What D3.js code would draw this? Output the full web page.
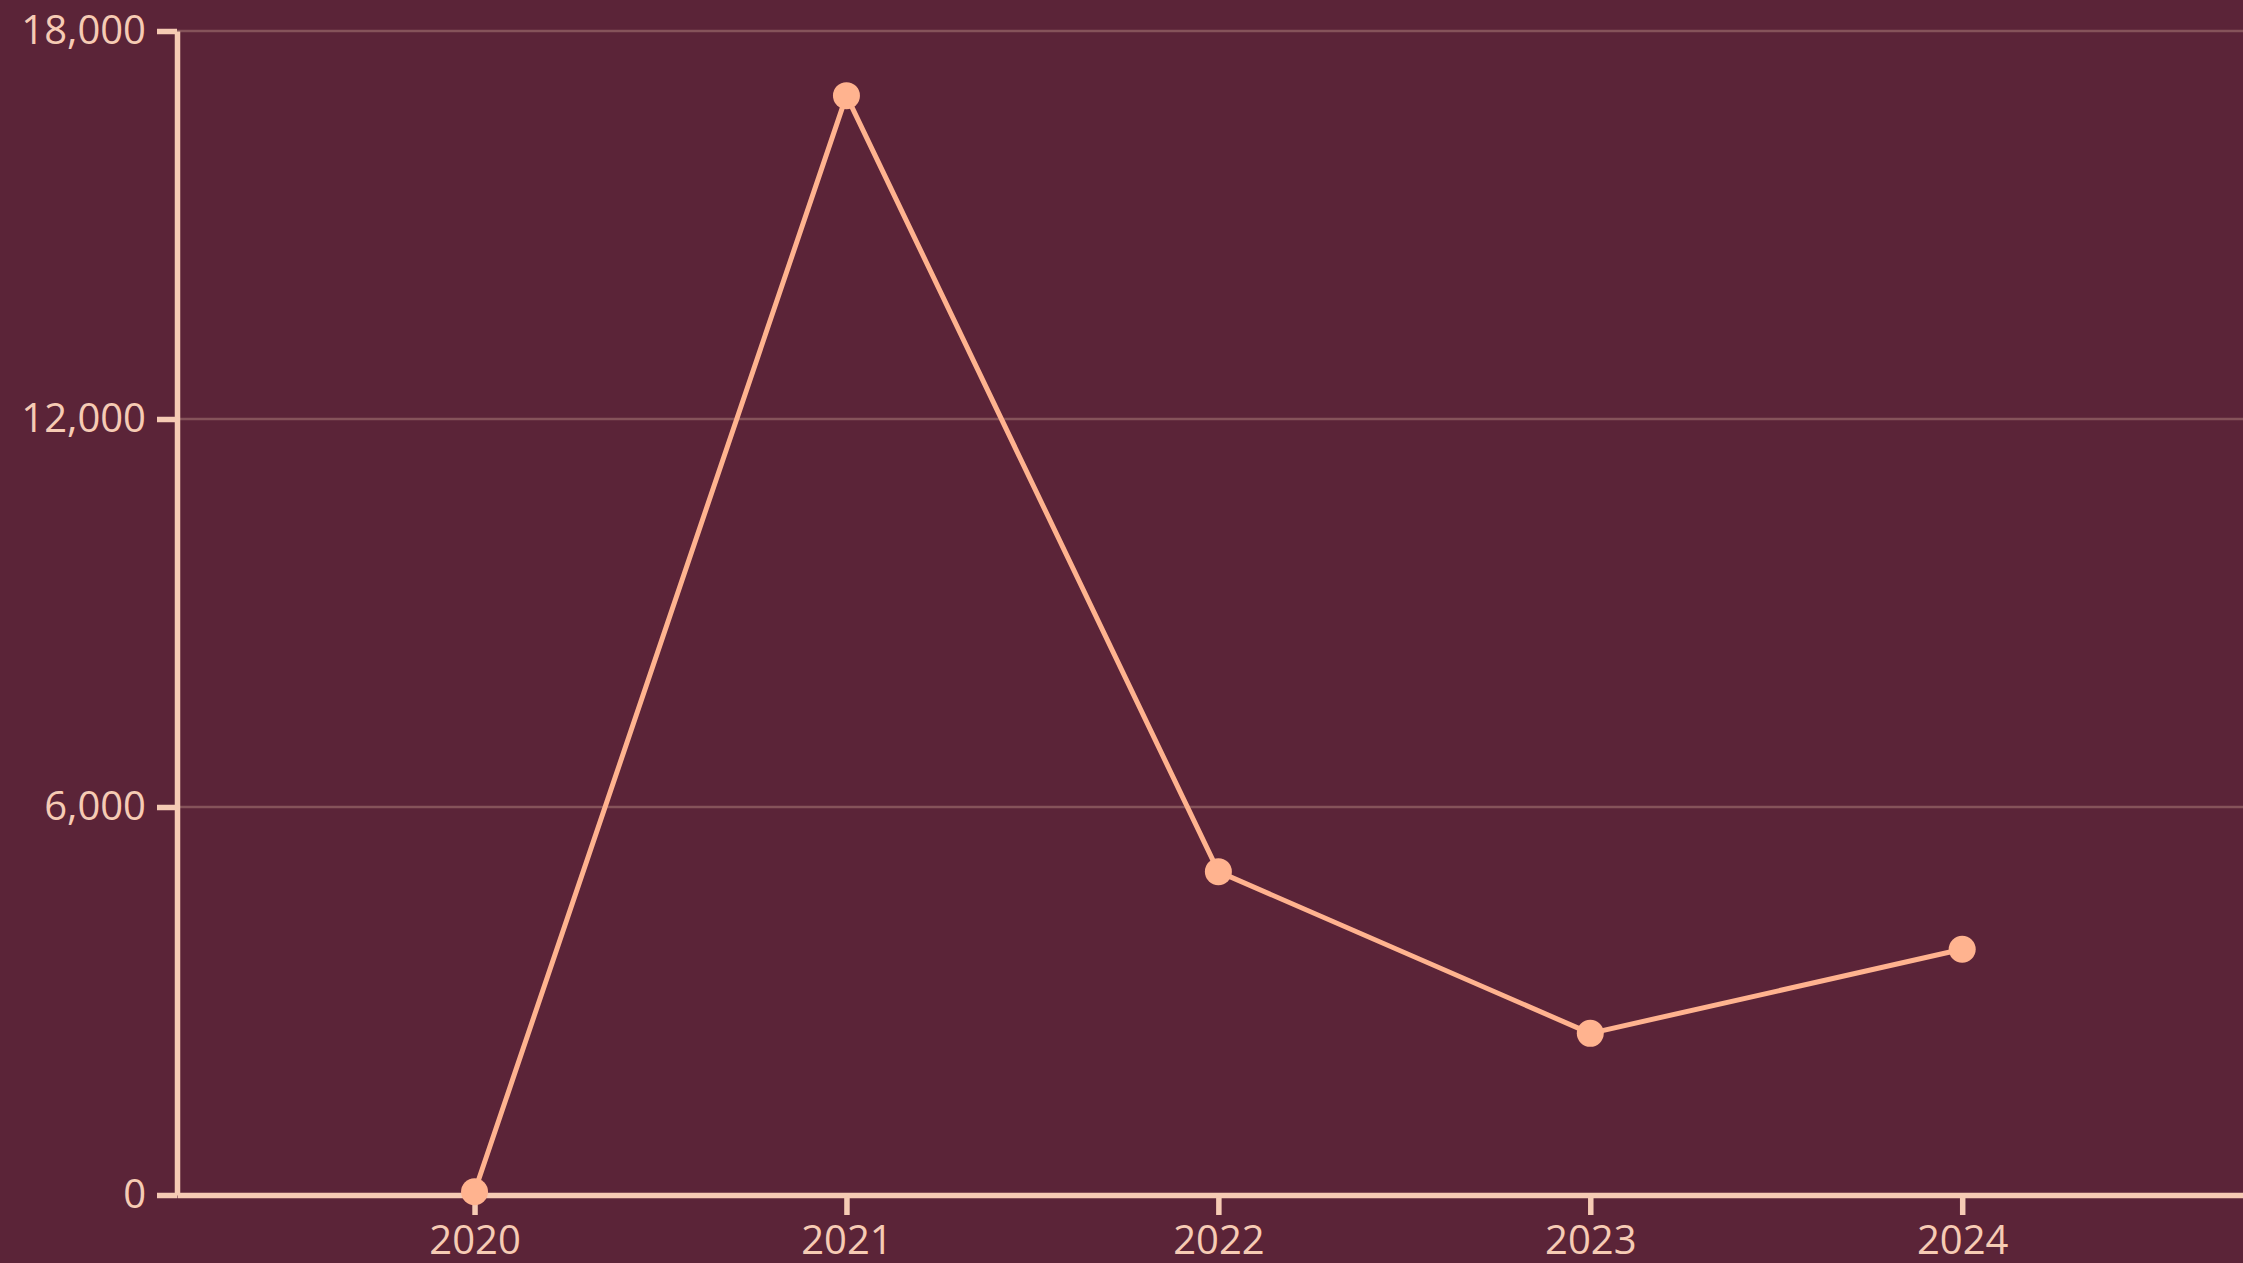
<!DOCTYPE html>
<html>
<head>
<meta charset="utf-8">
<script src="https://cdn.jsdelivr.net/npm/d3@7"></script>
<style>
    html, body { margin: 0; padding: 0; background: #5b2438; overflow: hidden; }
    text { font-family: 'Open Sans', 'Noto Sans', sans-serif; }
</style>
</head>
<body>
<div id="chart"></div>
<script>

// data
var years = [2020, 2021, 2022, 2023, 2024];
var values = [50, 17000, 5000, 2500, 3800];
var yTicks = [0, 6000, 12000, 18000];

var width = 2243;
var height = 1263;
var margin = { top: 31, right: 0, bottom: 68, left: 177 };

var bg = '#5b2438';
var axisColor = '#f6cbb4';
var lineColor = '#ffb38f';

var svg = d3.select('#chart').append('svg')
    .attr('width', width)
    .attr('height', height)
    .style('background', bg);

// x runs a bit past the last year so the axis reaches the edge
var x = d3.scaleLinear()
    .domain([years[0] - 0.8, years[years.length - 1] + 0.755])
    .range([margin.left, width - margin.right]);

var y = d3.scaleLinear()
    .domain([0, 18000])
    .range([height - margin.bottom, margin.top]);

// gridlines
svg.append('g')
    .selectAll('line')
    .data(yTicks.filter(function (d) { return d > 0; }))
    .enter()
    .append('line')
    .attr('x1', margin.left)
    .attr('x2', width)
    .attr('y1', function (d) { return y(d); })
    .attr('y2', function (d) { return y(d); })
    .attr('stroke', axisColor)
    .attr('stroke-opacity', 0.28)
    .attr('stroke-width', 2.5);

// axes
var yAxis = svg.append('g')
    .attr('transform', 'translate(' + margin.left + ',0)')
    .call(d3.axisLeft(y).tickValues(yTicks).tickFormat(d3.format(',')).tickSize(20).tickPadding(11).tickSizeOuter(0));

var xAxis = svg.append('g')
    .attr('transform', 'translate(0,' + y(0) + ')')
    .call(d3.axisBottom(x).tickValues(years).tickFormat(d3.format('d')).tickSize(20).tickPadding(11).tickSizeOuter(0));

[xAxis, yAxis].forEach(function (g) {
    g.select('.domain').attr('stroke', axisColor).attr('stroke-width', 5.5);
    g.selectAll('.tick line').attr('stroke', axisColor).attr('stroke-width', 5.5);
    g.selectAll('.tick text')
        .attr('fill', axisColor)
        .style('font-size', '40px')
        .style('font-family', "'Open Sans', 'Noto Sans', sans-serif");
});

// line + points
var line = d3.line()
    .x(function (d, i) { return x(years[i]); })
    .y(function (d) { return y(d); });

svg.append('path')
    .datum(values)
    .attr('d', line)
    .attr('fill', 'none')
    .attr('stroke', lineColor)
    .attr('stroke-width', 5)
    .attr('stroke-linejoin', 'round');

svg.append('g')
    .selectAll('circle')
    .data(values)
    .enter()
    .append('circle')
    .attr('cx', function (d, i) { return x(years[i]); })
    .attr('cy', function (d) { return y(d); })
    .attr('r', 13.5)
    .attr('fill', lineColor);

</script>
</body>
</html>
